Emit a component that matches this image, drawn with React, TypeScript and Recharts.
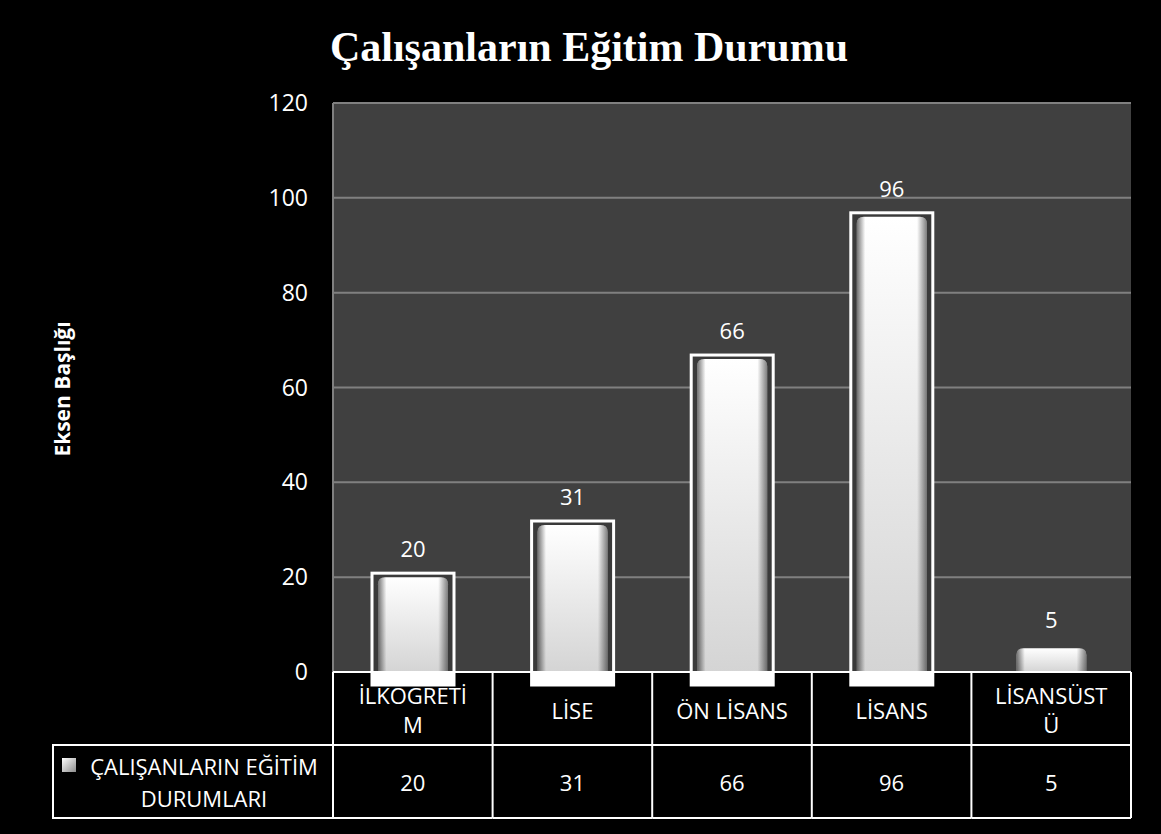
import { Bar, BarChart, XAxis, YAxis, CartesianGrid, LabelList } from "recharts";

const categories = ["İLKOGRETİM", "LİSE", "ÖN LİSANS", "LİSANS", "LİSANSÜSTÜ"];
const values = [20, 31, 66, 96, 5];
const yTicks = [0, 20, 40, 60, 80, 100, 120];
const seriesName = "ÇALIŞANLARIN EĞİTİM DURUMLARI";
const chartTitle = "Çalışanların Eğitim Durumu";
const yAxisTitle = "Eksen Başlığı";

const data = categories.map((c, i) => ({ category: c, value: values[i] }));

const W = 1161;
const H = 834;
const PLOT_LEFT = 333;
const PLOT_RIGHT = 1131;
const PLOT_TOP = 103;
const PLOT_BOTTOM = 672;
const ROW_H = 73;
const BAND = (PLOT_RIGHT - PLOT_LEFT) / categories.length;
const FONT = "'Open Sans', sans-serif";
const FS = 22;

// Excel cuts long single words inside the cell
function wrap(label: string): string[] {
  if (label.length <= 9) return [label];
  const out: string[] = [];
  for (let i = 0; i < label.length; i += 9) out.push(label.slice(i, i + 9));
  return out;
}

const legendLines = [
  seriesName.slice(0, seriesName.lastIndexOf(" ")),
  seriesName.slice(seriesName.lastIndexOf(" ") + 1),
];

function TableTick(props: any) {
  const { x, y, payload } = props;
  const i = payload.index;
  const half = BAND / 2;
  const lines = wrap(categories[i]);
  const last = i === categories.length - 1;
  const lineH = 29;
  const firstY = y + ROW_H / 2 + 1 - ((lines.length - 1) * lineH) / 2;
  return (
    <g>
      <line x1={x - half} x2={x - half} y1={y} y2={y + 2 * ROW_H} stroke="#fff" strokeWidth={2} />
      {last && <line x1={x + half} x2={x + half} y1={y} y2={y + 2 * ROW_H} stroke="#fff" strokeWidth={2} />}
      <line x1={x - half} x2={x + half} y1={y + ROW_H} y2={y + ROW_H} stroke="#fff" strokeWidth={2} />
      <line x1={x - half} x2={x + half} y1={y + 2 * ROW_H} y2={y + 2 * ROW_H} stroke="#fff" strokeWidth={2} />
      {lines.map((l, k) => (
        <text key={k} x={x} y={firstY + k * lineH} textAnchor="middle" dominantBaseline="central" fill="#fff" fontSize={FS} fontFamily={FONT}>
          {l}
        </text>
      ))}
      <text x={x} y={y + ROW_H * 1.5} textAnchor="middle" dominantBaseline="central" fill="#fff" fontSize={FS} fontFamily={FONT}>
        {values[i]}
      </text>
      {i === 0 && (
        <g>
          <rect x={53} y={y + ROW_H} width={x - half - 53} height={ROW_H} fill="none" stroke="#fff" strokeWidth={2} />
          <defs>
            <linearGradient id="legKey" x1="0" y1="0" x2="1" y2="1">
              <stop offset="0%" stopColor="#ffffff" />
              <stop offset="100%" stopColor="#8c8c8c" />
            </linearGradient>
          </defs>
          <rect x={62} y={y + ROW_H + 13} width={14} height={14} fill="url(#legKey)" />
          {legendLines.map((l, k) => (
            <text
              key={k}
              x={204}
              y={y + ROW_H + 21 + k * 32}
              textAnchor="middle"
              dominantBaseline="central"
              fill="#fff"
              fontSize={FS}
              fontFamily={FONT}
            >
              {l}
            </text>
          ))}
        </g>
      )}
    </g>
  );
}

function BevelBar(props: any) {
  const { x, y, width, height, index } = props;
  const pad = 6;
  const outlined = index < categories.length - 1;
  const vid = `bv${index}`;
  const hid = `bh${index}`;
  const r = 7;
  const path = `M${x},${y + height} L${x},${y + r} Q${x},${y} ${x + r},${y} L${x + width - r},${y} Q${x + width},${y} ${x + width},${y + r} L${x + width},${y + height} Z`;
  return (
    <g>
      <defs>
        <linearGradient id={vid} x1="0" y1="0" x2="0" y2="1">
          <stop offset="0%" stopColor="#ffffff" />
          <stop offset="100%" stopColor="#d4d4d4" />
        </linearGradient>
        <linearGradient id={hid} x1="0" y1="0" x2="1" y2="0">
          <stop offset="0%" stopColor="#000" stopOpacity={0.55} />
          <stop offset="12%" stopColor="#000" stopOpacity={0} />
          <stop offset="86%" stopColor="#000" stopOpacity={0} />
          <stop offset="100%" stopColor="#000" stopOpacity={0.5} />
        </linearGradient>
      </defs>
      {outlined && (
        <>
          <rect x={x - pad} y={y - 4} width={width + 2 * pad} height={height + 4 + 13} fill="#3a3a3a" stroke="#fff" strokeWidth={3} />
          <rect x={x - pad} y={y + height} width={width + 2 * pad} height={13} fill="#fff" />
        </>
      )}
      <path d={path} fill={`url(#${vid})`} />
      <path d={path} fill={`url(#${hid})`} />
    </g>
  );
}

export default function App() {
  return (
    <div style={{ position: "absolute", left: 0, top: 0, width: W, height: H, background: "#000" }}>
      <BarChart
        width={W}
        height={H}
        data={data}
        margin={{ top: PLOT_TOP, right: W - PLOT_RIGHT, bottom: H - PLOT_BOTTOM - 2 * ROW_H, left: PLOT_LEFT - 80 }}
        barSize={70}
      >
        <CartesianGrid vertical={false} fill="#404040" stroke="#808080" strokeWidth={2} />
        <YAxis
          width={80}
          domain={[0, 120]}
          ticks={yTicks}
          tickLine={false}
          tickSize={0}
          tickMargin={25}
          axisLine={{ stroke: "#808080", strokeWidth: 2 }}
          tick={{ fill: "#fff", fontSize: 23, fontFamily: FONT }}
          interval={0}
        />
        <XAxis
          dataKey="category"
          height={2 * ROW_H}
          tickLine={false}
          tickSize={0}
          tickMargin={0}
          axisLine={{ stroke: "#fff", strokeWidth: 2 }}
          tick={<TableTick />}
          interval={0}
        />
        <Bar dataKey="value" shape={<BevelBar />} isAnimationActive={false}>
          <LabelList dataKey="value" position="top" offset={20} fill="#fff" fontSize={FS} fontFamily={FONT} />
        </Bar>
      </BarChart>
      <svg width={W} height={H} style={{ position: "absolute", left: 0, top: 0, pointerEvents: "none" }}>
        <text x={589} y={61} textAnchor="middle" fill="#fff" fontSize={42} fontWeight="bold" fontFamily="'Liberation Serif', 'Times New Roman', serif">
          {chartTitle}
        </text>
        <text
          x={62}
          y={389}
          transform="rotate(-90 62 389)"
          textAnchor="middle"
          dominantBaseline="central"
          fill="#fff"
          fontSize={21}
          fontWeight="bold"
          fontFamily={FONT}
        >
          {yAxisTitle}
        </text>
      </svg>
    </div>
  );
}
